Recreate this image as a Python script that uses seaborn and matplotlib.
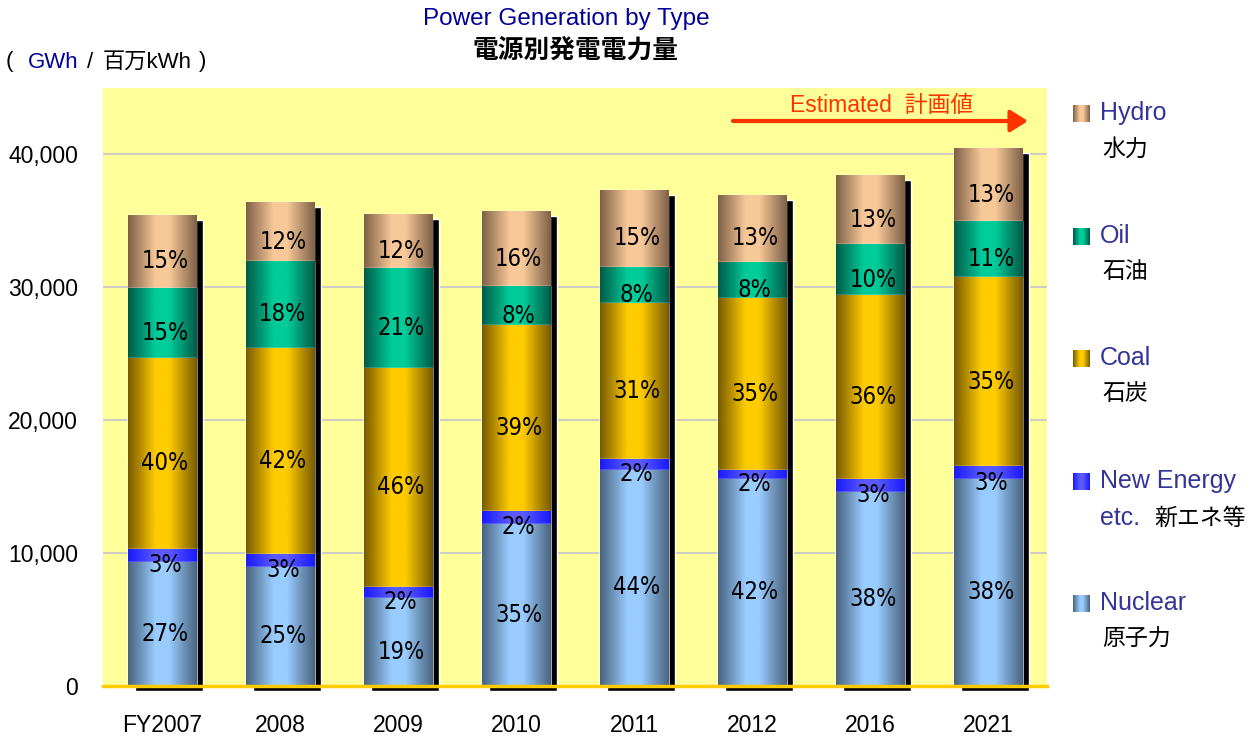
import numpy as np
import pandas as pd
import matplotlib.pyplot as plt
import matplotlib.transforms as mtransforms
from matplotlib.colors import LinearSegmentedColormap
import seaborn as sns

# data (GWh)
years = ["FY2007", "2008", "2009", "2010", "2011", "2012", "2016", "2021"]
nuclear = [9340, 8970, 6630, 12210, 16290, 15540, 14570, 15570]
new_energy = [960, 960, 850, 960, 760, 730, 1000, 950]
coal = [14380, 15510, 16430, 13960, 11750, 12910, 13820, 14250]
oil = [5240, 6520, 7520, 2940, 2720, 2720, 3840, 4190]
hydro = [5560, 4440, 4080, 5640, 5810, 5060, 5190, 5510]

nuclear_pct = ["27%", "25%", "19%", "35%", "44%", "42%", "38%", "38%"]
new_pct = ["3%", "3%", "2%", "2%", "2%", "2%", "3%", "3%"]
coal_pct = ["40%", "42%", "46%", "39%", "31%", "35%", "36%", "35%"]
oil_pct = ["15%", "18%", "21%", "8%", "8%", "8%", "10%", "11%"]
hydro_pct = ["15%", "12%", "12%", "16%", "15%", "13%", "13%", "13%"]

y_ticks = [0, 10000, 20000, 30000, 40000]

sources = ["Nuclear", "New Energy", "Coal", "Oil", "Hydro"]  # bottom -> top
labels_jp = {"Nuclear": "原子力", "New Energy": "新エネ等", "Coal": "石炭",
             "Oil": "石油", "Hydro": "水力"}
# (edge colour, centre colour) for the cylinder-ish gradient
shades = {
    "Nuclear": ("#4a6480", "#99ccff"),
    "New Energy": ("#1a1aff", "#5a5aff"),
    "Coal": ("#7a5c00", "#ffcc00"),
    "Oil": ("#005c48", "#00cc99"),
    "Hydro": ("#806248", "#f8c898"),
}

df = pd.DataFrame({"year": years, "Nuclear": nuclear, "New Energy": new_energy,
                   "Coal": coal, "Oil": oil, "Hydro": hydro})
pct = {"Nuclear": nuclear_pct, "New Energy": new_pct, "Coal": coal_pct,
       "Oil": oil_pct, "Hydro": hydro_pct}
cum = df[sources].cumsum(axis=1)
bottoms = cum.shift(1, axis=1).fillna(0)

sns.set_style("white")
plt.rcParams['font.family'] = ['Liberation Sans', 'Noto Sans CJK JP', 'DejaVu Sans']
plt.rcParams['text.color'] = 'black'

W, H = 1253, 738
fig = plt.figure(figsize=(W / 100, H / 100), dpi=100)
ax = fig.add_axes([103 / W, 52 / H, 944 / W, 598 / H])
ax.set_facecolor("#ffff99")

BAR_W = 0.58
grad = np.linspace(0, 1, 64)[None, :]

# drop shadow behind each column
sns.barplot(x=years, y=cum["Hydro"], color="black", width=BAR_W, saturation=1,
            errorbar=None, ax=ax)
shadow_tr = mtransforms.offset_copy(ax.transData, fig=fig, x=7, y=-5, units="dots")
for p in ax.patches:
    p.set_transform(shadow_tr)
    p.set_zorder(1.5)
    p.set_clip_on(False)

# stacked bars: draw cumulative heights top layer first
for k, src in enumerate(reversed(sources)):
    dark, light = shades[src]
    start = len(ax.patches)
    sns.barplot(x=years, y=cum[src], color=light, width=BAR_W, saturation=1,
                errorbar=None, ax=ax)
    cmap = LinearSegmentedColormap.from_list(
        src, [(0, dark), (0.4, light), (0.6, light), (1, dark)])
    for p in ax.patches[start:]:
        p.set_zorder(2 + 2 * k)
        x0, y0 = p.get_x(), p.get_y()
        im = ax.imshow(grad, cmap=cmap, aspect="auto", interpolation="bilinear",
                       extent=(x0, x0 + p.get_width(), y0, y0 + p.get_height()),
                       zorder=3 + 2 * k)
        im.set_clip_path(p)

# percentage labels
for src in sources:
    for i in range(len(years)):
        yc = bottoms[src][i] + df[src][i] / 2
        ax.annotate(pct[src][i], (i, yc), xytext=(2, -7), textcoords="offset points",
                    ha="center", va="center", fontsize=17, zorder=30, color="black",
                    family=["DejaVu Sans"], fontstretch="condensed")

ax.set_xlim(-0.5, len(years) - 0.5)
ax.set_ylim(0, 45000)
ax.set_yticks(y_ticks)
ax.set_yticklabels([f"{v:,}" for v in y_ticks])
ax.set_xticks(range(len(years)))
ax.set_xticklabels(years)
ax.set_xlabel("")
ax.set_ylabel("")
ax.set_axisbelow(True)
ax.yaxis.grid(True, color="#c8c8c8", lw=1.3)
ax.xaxis.grid(False)
for s in ["top", "right", "left"]:
    ax.spines[s].set_visible(False)
ax.spines["bottom"].set_color("#ffcc00")
ax.spines["bottom"].set_linewidth(2.5)
ax.spines["bottom"].set_zorder(40)
ax.set_xticks(np.arange(-0.5, len(years)), minor=True)
ax.tick_params(axis="x", which="minor", direction="in", length=7, width=2,
               color="#ffcc00")
ax.tick_params(axis="x", which="major", length=0, pad=20, labelsize=16.5,
               labelcolor="black")
ax.tick_params(axis="y", length=0, pad=18, labelsize=16.5, labelcolor="black")

# titles
fig.text(566 / W, 1 - 19 / H, "Power Generation by Type", color="#000099",
         ha="center", va="center", fontsize=17.5)
fig.text(575 / W, 1 - 50 / H, "電源別発電電力量", ha="center", va="center",
         fontsize=18.5, family=["Noto Sans CJK JP"], fontweight="bold")
fig.text(6 / W, 1 - 62 / H, "(", ha="left", va="center", fontsize=16)
fig.text(28 / W, 1 - 62 / H, "GWh", color="#000099", ha="left", va="center", fontsize=16)
fig.text(87 / W, 1 - 62 / H, "/", ha="left", va="center", fontsize=16)
fig.text(103 / W, 1 - 62 / H, "百万kWh", ha="left", va="center", fontsize=16)
fig.text(199 / W, 1 - 62 / H, ")", ha="left", va="center", fontsize=16)

# estimated marker
fig.text(882 / W, 1 - 105 / H, "Estimated  計画値", color="#ff3300",
         ha="center", va="center", fontsize=16.5)
ax.annotate("", xy=(1028, H - 121), xycoords="figure pixels",
            xytext=(733, H - 121), textcoords="figure pixels",
            arrowprops=dict(arrowstyle="-|>,head_length=0.35,head_width=0.22",
                            mutation_scale=30, color="#ff3300", lw=3,
                            shrinkA=0, shrinkB=0))

# legend built by hand (two-line labels)
legend_rows = [("Hydro", 113), ("Oil", 236), ("Coal", 358),
               ("New Energy", 481), ("Nuclear", 603)]
for src, yy in legend_rows:
    dark, light = shades[src]
    cmap = LinearSegmentedColormap.from_list(
        src + "_leg", [(0, dark), (0.4, light), (0.6, light), (1, dark)])
    iax = fig.add_axes([1073 / W, 1 - (yy + 9) / H, 17 / W, 17 / H])
    iax.imshow(grad, cmap=cmap, aspect="auto", interpolation="nearest")
    iax.axis("off")
    fig.text(1100 / W, 1 - yy / H, src, color="#333399", ha="left", va="center",
             fontsize=18)
    if src == "New Energy":
        fig.text(1100 / W, 1 - (yy + 37) / H, "etc.", color="#333399", ha="left",
                 va="center", fontsize=18)
        fig.text(1154 / W, 1 - (yy + 37) / H, labels_jp[src], ha="left",
                 va="center", fontsize=16.5)
    else:
        fig.text(1102 / W, 1 - (yy + 36) / H, labels_jp[src], ha="left",
                 va="center", fontsize=16.5)

plt.savefig("out.png", dpi=100)
